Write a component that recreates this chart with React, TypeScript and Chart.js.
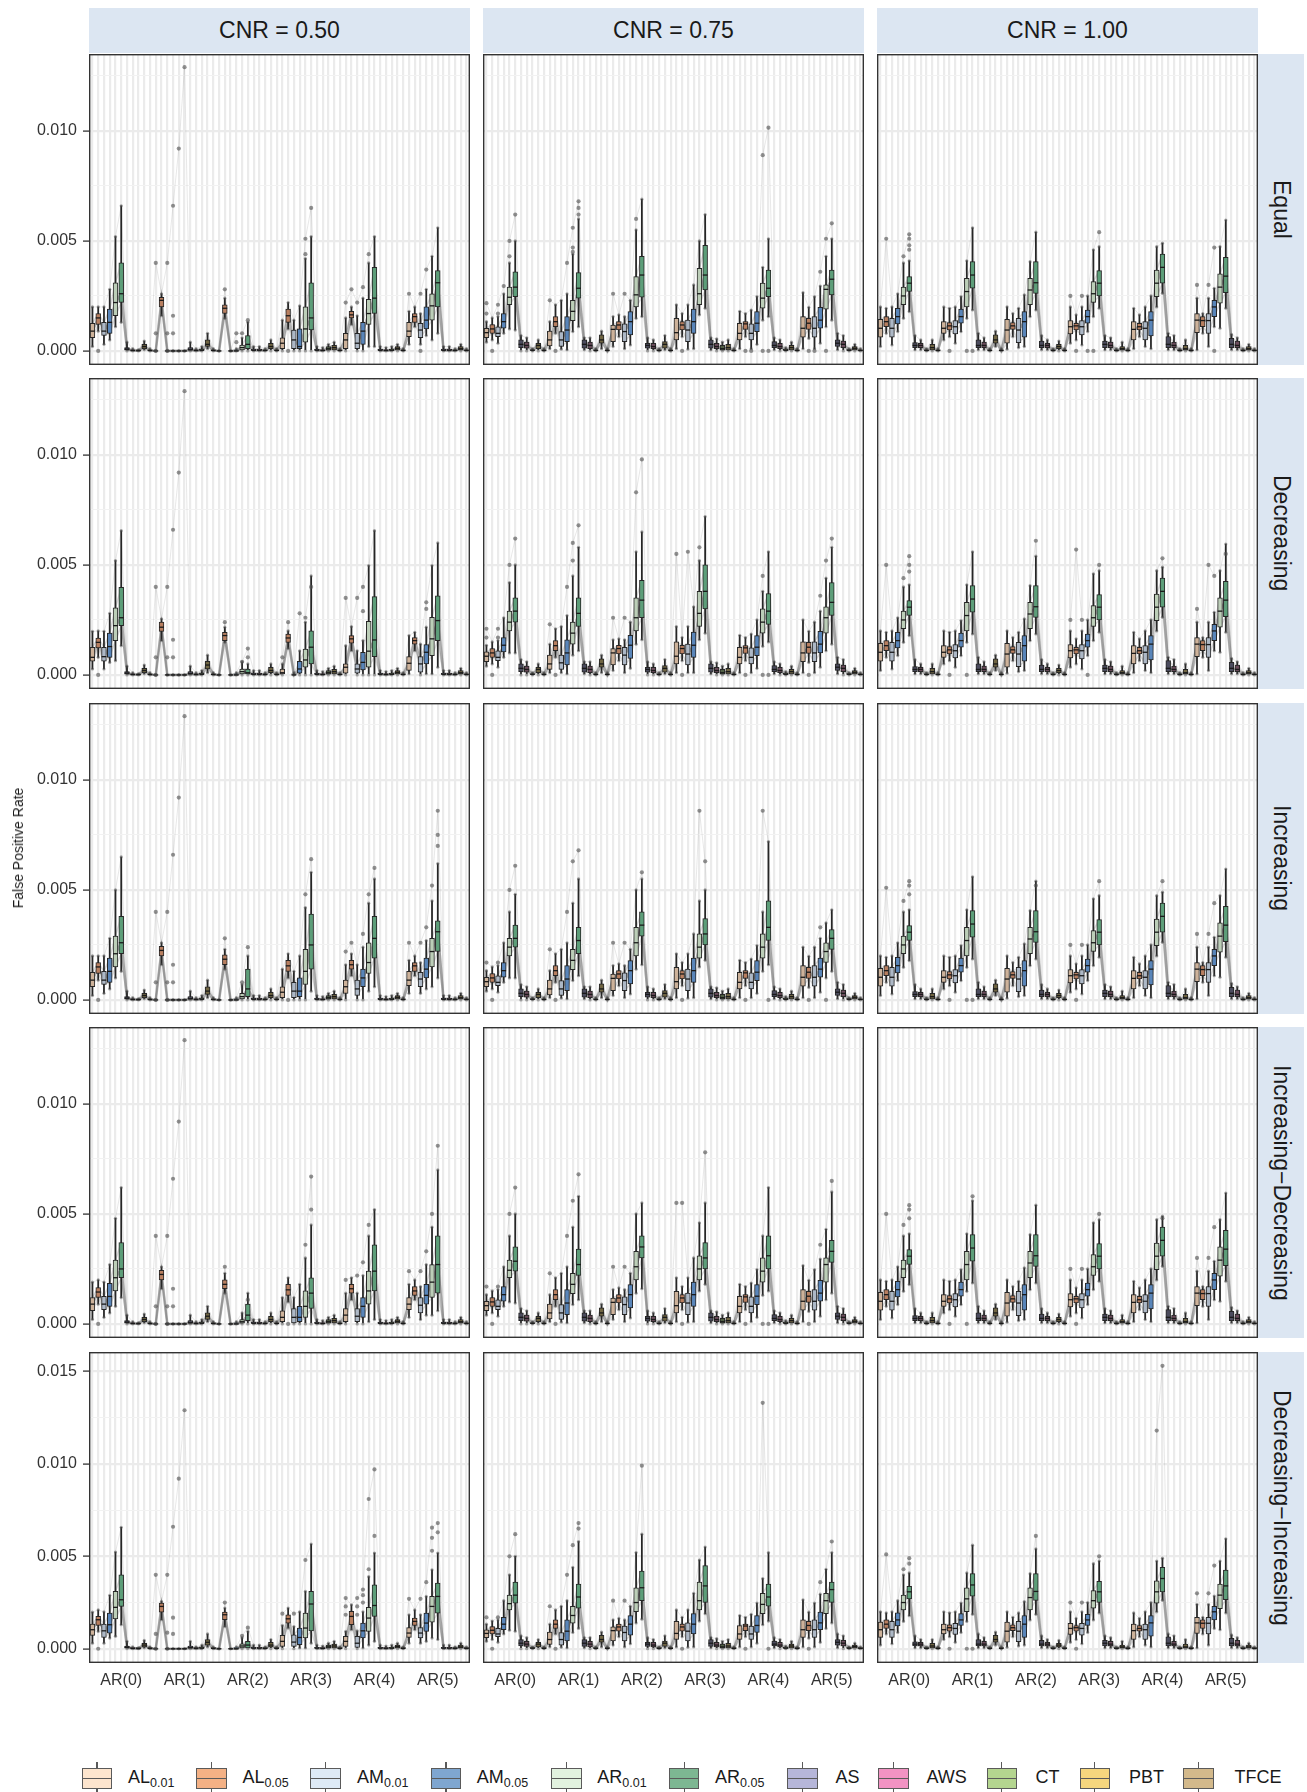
import React, { useEffect, useRef } from 'react';
import { Chart, registerables } from 'chart.js';

Chart.register(...registerables);

type Box = [number, number, number, number, number]; // lower whisker, Q1, median, Q3, upper whisker (x 1e-4)
type Outlier = [number, number]; // position 1..66, value (x 1e-4)

const FONT = '"Liberation Sans", Arial, Helvetica, sans-serif';
const UNIT = 1e-4;

const GROUPS = ['AR(0)', 'AR(1)', 'AR(2)', 'AR(3)', 'AR(4)', 'AR(5)'];
const METHOD_BASE = ['AL', 'AL', 'AM', 'AM', 'AR', 'AR', 'AS', 'AWS', 'CT', 'PBT', 'TFCE'];
const METHOD_SUB = ['0.01', '0.05', '0.01', '0.05', '0.01', '0.05', '', '', '', '', ''];
const CNR_LABELS = ['CNR = 0.50', 'CNR = 0.75', 'CNR = 1.00'];
const PATTERN_LABELS = ['Equal', 'Decreasing', 'Increasing', 'Increasing\u2212Decreasing', 'Decreasing\u2212Increasing'];
const Y_TITLE = 'False Positive Rate';

const LEGEND_FILL = ['#FDE5CE', '#F4B185', '#DEEAF6', '#7FA6D0', '#E2F2DF', '#7DB792', '#B6B6D9', '#F293C3', '#B4D58F', '#F6D67E', '#D3B98B'];
const BOX_FILL = ['#CDB29A', '#B87F60', '#ADB8C6', '#5985B9', '#BCCEB8', '#5D9E79', '#4C4C5E', '#6C4C5C', '#505F44', '#706542', '#605646'];

// ---------- data (values in units of 1e-4) ----------
const EQUAL_050: Box[] = [
  [2,6,9,12.5,20],[9,12,15,17,20],[3,7,9,13,20],[5,8,13,19,28],[11,16,22,31,52],[13,22,26,40,66],[0,0.3,0.8,1.5,4],[0,0,0.2,0.5,1],[0,0,0.1,0.3,0.6],[0.5,1,2,3,4.5],[0,0,0.2,0.5,1],
  [0,0,0,0,0],[16,20,23,24.4,26],[0,0,0,0,0],[0,0,0,0,0],[0,0,0,0,0],[0,0,0,0,0],[0,0,0.5,1.5,4],[0,0,0.2,0.5,1],[0,0,0.3,1,2],[1,2,3,5,8],[0,0,0.2,0.5,1],
  [0,0,0,0,0],[14.8,17,19.4,21,24],[0,0,0,0,0],[0,0,0,0.3,1],[0,0.5,1.5,2.7,6],[0,1,3,7,13],[0,0,0.3,0.8,2],[0,0,0.3,0.8,2],[0,0,0.2,0.5,1],[0,1,2,3.5,5],[0,0,0.2,0.5,1],
  [0,1,3.5,6,14],[10,13,16,19,22],[0,1,5,9.5,14],[0,1,2,10,20.5],[0,4,10,20,42],[0,9.5,15,31,52],[0,0,0.3,0.8,2],[0,0,0.2,0.5,1.5],[0,0.3,1,2,3],[0,0.5,1.5,2.5,4],[0,0,0.2,0.5,1],
  [0,1,5,8,15],[12,15,16.4,18,20],[0,1,3.5,8,16],[0,3,9,13,24],[2,12,17,23.5,40],[2,17,24,38,52],[0,0,0.3,0.8,2],[0,0,0.2,0.5,1.5],[0,0,0.3,0.8,2],[0,0.5,1.2,2,3],[0,0,0.2,0.5,1],
  [3,6.5,9,13,18],[11,13,15.6,17,20],[3,6,9.5,12.6,17],[7,10,14,20,28],[5,14,20.5,26,43],[8,20,31,36.5,56],[0,0,0.3,0.8,2],[0,0,0.3,0.8,2],[0,0,0.2,0.5,1],[0,0.5,1,2,3],[0,0,0.2,0.5,1],
];
const EQUAL_050_OUT: Outlier[] = [
  [2,0],[12,0],[12,8],[12,40],[14,0],[14,8],[14,40],[15,8],[15,16],[15,66],[16,92],[17,129],[24,28],[26,4],[26,8],[27,8],[28,14],
  [35,0],[38,44],[38,51],[39,65],[45,22],[46,28],[47,22],[48,29],[49,44],[56,26],[58,0],[58,26],[59,37],
];

const DECREASING_050: Box[] = [
  [2.7,6.2,8,12.6,19.8],[8,12.3,14.8,16.8,20],[2.7,6.2,8.3,12.6,19.8],[5.7,8,12.9,19,28],[6.5,15.6,22.4,30.5,52],[13.3,22.4,26,39.8,65.6],[0,0.3,0.8,1.5,4],[0,0,0.2,0.5,1],[0,0,0.1,0.3,0.6],[0.5,1,2,3,4.5],[0,0,0.2,0.5,1],
  [0,0,0,0,0],[15.6,19.8,21.7,24,25.5],[0,0,0,0,0],[0,0,0,0,0],[0,0,0,0,0],[0,0,0,0,0],[0,0,0.5,1.5,4],[0,0,0.2,0.5,1],[0,0,0.3,1,2],[1,2.7,4.5,6.2,9],[0,0,0.2,0.5,1],
  [0,0,0,0,0],[14.8,15.6,17.9,19.4,21.7],[0,0,0,0,0],[0,0,0,0.3,1],[0,0.5,1.5,2.7,6],[0,0.5,1,2.7,5],[0,0,0.3,0.8,2],[0,0,0.3,0.8,2],[0,0,0.2,0.5,1],[0,1,2,3.5,5],[0,0,0.2,0.5,1],
  [0,0.5,1,2.7,5],[12,14.8,16.8,18.6,20],[0,0,0,0.3,1],[0,0.8,2.7,6.2,11],[0,3.5,6.8,11.8,24],[0,5,12.6,20,45],[0,0,0.3,0.8,2],[0,0,0.2,0.5,1.5],[0,0.3,1,2,3],[0,0.5,1.5,2.5,4],[0,0,0.2,0.5,1],
  [0,0.8,3.5,5,13.3],[11,14.4,16.4,17.9,22],[0,0.8,2.7,5,11],[0,2.3,5.7,10.3,15.6],[0,3.5,10.8,24.4,49.7],[0,8.3,15.9,35.6,65.6],[0,0,0.3,0.8,2],[0,0,0.2,0.5,1.5],[0,0,0.3,0.8,2],[0,0.5,1.2,2,3],[0,0,0.2,0.5,1],
  [0.5,2,5.3,8.3,17.9],[11,14,15.6,17,19.4],[0,1.2,5,8.3,14],[0.5,5,10.3,13.8,21.7],[0.5,8.8,16.4,26.2,49.7],[3.5,15.6,24.7,36,60],[0,0,0.3,0.8,2],[0,0,0.3,0.8,2],[0,0,0.2,0.5,1],[0,0.5,1,2,3],[0,0,0.2,0.5,1],
];
const DECREASING_050_OUT: Outlier[] = [
  [2,0],[12,0],[12,8],[12,40],[14,8],[14,40],[15,8],[15,16],[15,66],[16,92],[17,129],[24,24],[27,6],[28,8],[28,12],[34,8],[35,24],[37,28],[38,26],[39,40],
  [45,35],[47,35],[48,29],[48,40],[59,30],[59,33],
];

const INCREASING_050: Box[] = [
  [2,6,9,12.5,20],[9,12,15,17,20],[3,7,9,13,20],[5,8,13,19,28],[10,15,21,29,50],[13,21,26,38,65],[0,0.3,0.8,1.5,4],[0,0,0.2,0.5,1],[0,0,0.1,0.3,0.6],[0.5,1,2,3,4.5],[0,0,0.2,0.5,1],
  [0,0,0,0,0],[16,20,22.5,24.4,26],[0,0,0,0,0],[0,0,0,0,0],[0,0,0,0,0],[0,0,0,0,0],[0,0,0.5,1.5,4],[0,0,0.2,0.5,1],[0,0,0.3,1,2],[1,2.5,4,6,9],[0,0,0.2,0.5,1],
  [0,0,0,0,0],[14,16,18.5,20.5,23],[0,0,0,0,0],[0,0,0,0.3,1],[0,0.5,1.5,3,7],[0,1.5,5,14,20],[0,0,0.3,0.8,2],[0,0,0.3,0.8,2],[0,0,0.2,0.5,1],[0,1,2,3.5,5],[0,0,0.2,0.5,1],
  [0,1,3.5,6,14],[10,13,15.5,18,21],[0,1,4,8,13],[0,1.5,4,10,20],[0,7,13,23,42],[4,14,25,39,58],[0,0,0.3,0.8,2],[0,0,0.2,0.5,1.5],[0,0.3,1,2,3],[0,0.5,1.5,2.5,4],[0,0,0.2,0.5,1],
  [0,3,6,9,16],[11,14,16,18,21],[0,2,5,9,16],[0,6,10,14,24],[4,12,17,26,44],[6,19,28,38,55],[0,0,0.3,0.8,2],[0,0,0.2,0.5,1.5],[0,0,0.3,0.8,2],[0,0.5,1.2,2,3],[0,0,0.2,0.5,1],
  [3,6.5,9,13,18],[11,13,15.5,17,20],[3,6,9.5,12.6,17],[5,10,14,19,27],[6,15,22,28,45],[10,22,31,36,62],[0,0,0.3,0.8,2],[0,0,0.3,0.8,2],[0,0,0.2,0.5,1],[0,0.5,1,2,3],[0,0,0.2,0.5,1],
];
const INCREASING_050_OUT: Outlier[] = [
  [2,0],[12,0],[12,8],[12,40],[14,0],[14,8],[14,40],[15,8],[15,16],[15,66],[16,92],[17,129],[24,28],[27,8],[28,24],[35,0],[38,48],[39,64],
  [45,22],[46,26],[48,30],[49,48],[50,60],[56,26],[58,26],[59,33],[60,52],[61,70],[61,75],[61,86],
];

const INCDEC_050: Box[] = [
  [2,6,9,12,19],[9,12,14.5,16.5,20],[3,6.5,9,12.5,19],[5,8,12.5,18.5,27],[8,15,21,29,48],[12,21,25,37,62],[0,0.3,0.8,1.5,4],[0,0,0.2,0.5,1],[0,0,0.1,0.3,0.6],[0.5,1,2,3,4.5],[0,0,0.2,0.5,1],
  [0,0,0,0,0],[16,20,22.5,24.4,26],[0,0,0,0,0],[0,0,0,0,0],[0,0,0,0,0],[0,0,0,0,0],[0,0,0.5,1.5,4],[0,0,0.2,0.5,1],[0,0,0.3,1,2],[1,2,3.5,5,8],[0,0,0.2,0.5,1],
  [0,0,0,0,0],[14,16,18,20,23],[0,0,0,0,0],[0,0,0,0.3,1],[0,0.3,1,2,5],[0,1.5,4,9,14],[0,0,0.3,0.8,2],[0,0,0.3,0.8,2],[0,0,0.2,0.5,1],[0,1,2,3.5,5],[0,0,0.2,0.5,1],
  [0,1,3,6,12],[10,13,15.5,18,21],[0,0.5,3,7,12],[0,1,3,8,18],[0,3,8,15,30],[0,7,14,21,45],[0,0,0.3,0.8,2],[0,0,0.2,0.5,1.5],[0,0.3,1,2,3],[0,0.5,1.5,2.5,4],[0,0,0.2,0.5,1],
  [0,1,4,7,14],[11,14,16,18,21],[0,1,3.5,7,14],[0,3,8,12,22],[1,9,15,24,40],[2,15,24,36,52],[0,0,0.3,0.8,2],[0,0,0.2,0.5,1.5],[0,0,0.3,0.8,2],[0,0.5,1.2,2,3],[0,0,0.2,0.5,1],
  [3,6.5,9,12,18],[11,13,15,17,20],[2,5,8.5,12,17],[4,9,13,18,27],[4,12,19,27,44],[6,14,27,40,70],[0,0,0.3,0.8,2],[0,0,0.3,0.8,2],[0,0,0.2,0.5,1],[0,0.5,1,2,3],[0,0,0.2,0.5,1],
];
const INCDEC_050_OUT: Outlier[] = [
  [2,0],[12,0],[12,8],[12,40],[14,0],[14,8],[14,40],[15,8],[15,16],[15,66],[16,92],[17,129],[24,26],[28,11],[35,0],[38,36],[39,52],[39,67],
  [45,20],[47,22],[48,28],[49,45],[56,24],[58,24],[59,33],[60,50],[61,81],
];

const DECINC_050: Box[] = [
  [3,7.2,10.3,13.3,19.8],[9.4,12.6,15.7,17.5,21],[3,6.1,9.7,13.3,20],[5.8,8.5,13,19.3,28.9],[6.7,16.2,22.4,31,52.3],[13,22.9,26.5,40,65.7],[0,0.3,0.8,1.5,4],[0,0,0.2,0.5,1],[0,0,0.1,0.3,0.6],[0.5,1,2,3,4.5],[0,0,0.2,0.5,1],
  [0,0,0,0,0],[15.7,19.8,22.9,24.7,25.6],[0,0,0,0,0],[0,0,0,0,0],[0,0,0,0,0],[0,0,0,0,0],[0,0,0.5,1.5,4],[0,0,0.2,0.5,1],[0,0,0.3,1,2],[1,2,3.5,5,8],[0,0,0.2,0.5,1],
  [0,0,0,0,0],[12,15.7,18.4,19.8,22],[0,0,0,0,0],[0,0,0,0.3,1],[0,0.5,1.5,2.7,6],[0,0.4,2,4,9.4],[0,0,0.3,0.8,2],[0,0,0.3,0.8,2],[0,0,0.2,0.5,1],[0,1,2,3.5,5],[0,0,0.2,0.5,1],
  [0,1.3,4,7.2,12.6],[11.2,13.9,16.2,18.4,22],[0,1.3,3.6,7.6,12],[0.4,2.2,6.1,11.2,20],[0.4,5.8,11.2,19.3,31],[3,9.7,24.2,31,56.6],[0,0,0.3,0.8,2],[0,0,0.2,0.5,1.5],[0,0.3,1,2,3],[0,0.5,1.5,2.5,4],[0,0,0.2,0.5,1],
  [0,1.3,4,6.7,9.4],[10.3,13,17.5,20.2,23.8],[0,0.7,3,6.7,9.7],[0.4,5.8,9.7,13.9,20],[2,9.4,16.6,22.4,39],[4,17.5,23.4,34.6,51.8],[0,0,0.3,0.8,2],[0,0,0.2,0.5,1.5],[0,0,0.3,0.8,2],[0,0.5,1.2,2,3],[0,0,0.2,0.5,1],
  [3,6.1,8.5,11.5,18.4],[10.3,12.6,14.8,16.6,21],[3,5.8,8.5,11.5,18.4],[4,9.4,13.9,19.3,28.3],[5.8,14.4,22.9,28.3,42.7],[5,19.3,28.3,35.5,51.8],[0,0,0.3,0.8,2],[0,0,0.3,0.8,2],[0,0,0.2,0.5,1],[0,0.5,1,2,3],[0,0,0.2,0.5,1],
];
const DECINC_050_OUT: Outlier[] = [
  [2,0],[12,0],[12,8],[12,40],[14,0],[14,8.7],[14,40],[15,8],[15,16.8],[15,66],[16,92],[17,129],[24,25],[27,7],[28,11.4],[34,19],[36,19],[38,48],
  [45,18.4],[45,22.9],[45,27.4],[47,18.4],[47,22.9],[47,27.4],[48,25],[48,29],[48,32],[49,43],[49,81],[50,61],[50,97],
  [56,27],[58,27],[59,36],[60,53],[60,60],[60,65.5],[61,63],[61,68],
];

const EQUAL_075: Box[] = [
  [4,6,8.3,10.3,13.3],[5,8,10,12,15],[3.5,6.5,8,11,15.6],[8,10.3,13.3,17,26],[10,21,24.4,29,40],[9.5,24.7,29,36,50],[0,1.5,3,5,7],[0,1.2,2.5,4,6],[0,0,0.3,0.5,1],[0,1,2.5,3.5,5],[0,0,0.2,0.5,1],
  [1,2.3,5,9,13.3],[8,11,13.3,15.6,21],[0.8,2,5,8.8,23],[0.5,4.2,9.5,15.6,26],[8.8,13.8,18,23,44],[11,24,28.5,35.6,60],[0.5,1.2,3,5,6],[0,1,2.5,4,6],[0,0,0.2,0.5,1],[1,3.5,5,7.3,9],[0,0,0.2,0.5,1],
  [2,4.2,9.8,11.8,15.6],[6.5,9.5,11.8,13.3,16.4],[1,4.2,8.8,12.3,15.6],[2.7,7.3,13.3,17.9,23],[14.8,20,25.5,33.8,55],[15.6,24.4,34.5,43,69],[0,1.2,2.5,3.5,6],[0,1,2,3.5,5],[0,0,0.2,0.5,1],[0.5,1.2,3,4.2,7],[0,0,0.2,0.5,1],
  [1,5,8.3,14.8,21],[6.5,9.5,11.8,13.3,17],[0.8,4.2,9.5,14,21],[1,8,13.3,19,30],[16.4,21,26,37.6,50],[19.4,27.7,34.5,48,62],[0.5,1.2,3,5,6],[0,1,2,3.5,5.5],[0,0.3,1,2.5,4],[0,0.5,1.5,3,5],[0,0,0.2,0.5,1],
  [1,5,8,12.6,18],[6.5,9.8,12.3,13.3,17],[1,5,8,12.3,18.6],[3,8.8,12.6,17.9,24.7],[14,19.4,24,30.8,38],[15.6,24.7,28.5,36.8,51],[0.5,1.5,2.5,4.2,6],[0,1,2,3.5,5],[0,0,0.3,0.8,1.5],[0,0.5,1.5,2.5,4],[0,0,0.2,0.5,1],
  [1,6.2,10.3,15.6,26.5],[5.7,9.8,12.6,14.8,19.8],[1,6.2,10.3,15.6,24.7],[3.5,10.3,14,19.8,29.5],[11,19,28,30,43],[14,25.5,32.6,36.8,51],[0.5,2,3.5,5,8],[0,1.5,3,4.5,7],[0,0,0.3,0.6,1],[0,0.5,1.2,2,3],[0,0,0.2,0.5,1],
];
const EQUAL_075_OUT: Outlier[] = [
  [1,17],[1,21.7],[2,0],[3,17],[3,21],[4,29.5],[5,43],[5,50],[6,62],[12,23],[13,0],[15,40],[16,45],[16,47],[16,56],[17,62],[17,65],[17,68],
  [23,26],[25,26],[27,60],[35,0],[46,0],[47,0],[49,0],[49,89],[50,0],[50,101.5],[57,0],[58,0],[59,36],[60,0],[60,51],[61,58],
];

const DECREASING_075: Box[] = [
  [4,6,8.5,10.5,13.5],[5,8,10,12,15],[3.5,6.5,8,11,15.6],[8,10.5,13.5,17,26],[10,20,24,29,42],[10,24,29,35,50],[0,1.5,3,5,7],[0,1.2,2.5,4,6],[0,0,0.3,0.5,1],[0,1,2.5,3.5,5],[0,0,0.2,0.5,1],
  [1,2.5,5,9,14],[8,11,13.3,15.6,21],[1,2.5,5.5,9,22],[0.5,4.5,10,16,27],[9,14,19,24,45],[11,22,28,35,58],[0.5,1.2,3,5,6],[0,1,2.5,4,6],[0,0,0.2,0.5,1],[1,3.5,5,7.3,9],[0,0,0.2,0.5,1],
  [2,4.5,10,12,16],[6.5,9.5,12,13.5,16.4],[1,4.5,9,12.5,16],[3,7.5,13.5,18,24],[14,20,26,35,56],[16,26,34,43,65],[0,1.2,2.5,3.5,6],[0,1,2,3.5,5],[0,0,0.2,0.5,1],[0.5,1.2,3,4.2,7],[0,0,0.2,0.5,1],
  [1,5,8.5,15,22],[6.5,9.5,12,13.5,17],[1,4.5,9.5,14,22],[1,8,13.5,19.5,31],[16,22,28,38,52],[19,30,38,50,72],[0.5,1.2,3,5,6],[0,1,2,3.5,5.5],[0,0.3,1,2.5,4],[0,0.5,1.5,3,5],[0,0,0.2,0.5,1],
  [1,5,8,12.6,18],[6.5,9.8,12.3,13.3,17],[1,5,8,12.3,18.6],[3,8.8,12.6,17.9,25],[13,19,24,30,38],[15,23,29,37,56],[0.5,1.5,2.5,4.2,6],[0,1,2,3.5,5],[0,0,0.3,0.8,1.5],[0,0.5,1.5,2.5,4],[0,0,0.2,0.5,1],
  [1,6,10,15,25],[5.7,9.8,12.6,14.8,19.8],[1,6,10,15,24],[3.5,10,14,19.8,29],[11,19,26,31,44],[14,27,33,42,58],[0.5,2,3.5,5,8],[0,1.5,3,4.5,7],[0,0,0.3,0.6,1],[0,0.5,1.2,2,3],[0,0,0.2,0.5,1],
];
const DECREASING_075_OUT: Outlier[] = [
  [1,17],[1,21],[2,0],[3,17],[3,21],[5,50],[6,62],[12,23],[13,0],[15,40],[16,52],[16,60],[17,68],[23,26],[25,26],[27,83],[28,98],
  [34,55],[35,0],[36,56],[38,58],[46,0],[49,0],[49,45],[50,0],[57,0],[59,36],[60,52],[61,62],
];

const INCREASING_075: Box[] = [
  [4,6,8.3,10.3,13.3],[5,8,10,12,15],[3.5,6.5,8,11,15.6],[8,10.3,13.3,17,26],[10,20,24,28,40],[10,24,28,34,48],[0,1.5,3,5,7],[0,1.2,2.5,4,6],[0,0,0.3,0.5,1],[0,1,2.5,3.5,5],[0,0,0.2,0.5,1],
  [1,2.3,5,9,13.3],[8,11,13.3,15.6,21],[0.8,2,5,8.8,23],[0.5,4.2,9.5,15.6,26],[8.8,13.8,18,23,44],[11,21,27,33,55],[0.5,1.2,3,5,6],[0,1,2.5,4,6],[0,0,0.2,0.5,1],[1,3.5,5,7.3,9],[0,0,0.2,0.5,1],
  [2,4.2,9.8,11.8,15.6],[6.5,9.5,11.8,13.3,16.4],[1,4.2,8.8,12.3,15.6],[2.7,7.3,13.3,17.9,23],[14,20,26,33,50],[16,29,34,40,55],[0,1.2,2.5,3.5,6],[0,1,2,3.5,5],[0,0,0.2,0.5,1],[0.5,1.2,3,4.2,7],[0,0,0.2,0.5,1],
  [1,5,8.3,14.8,21],[6.5,9.5,11.8,13.3,17],[0.8,4.2,9.5,14,21],[1,8,13.3,19,30],[15,19,24,30,45],[18,25,30,37,50],[0.5,1.2,3,5,6],[0,1,2,3.5,5.5],[0,0.3,1,2.5,4],[0,0.5,1.5,3,5],[0,0,0.2,0.5,1],
  [1,5,8,12.6,18],[6.5,9.8,12.3,13.3,17],[1,5,8,12.3,18.6],[3,8.8,12.6,17.9,24.7],[13,19,24,30,40],[16,27,33,45,72],[0.5,1.5,2.5,4.2,6],[0,1,2,3.5,5],[0,0,0.3,0.8,1.5],[0,0.5,1.5,2.5,4],[0,0,0.2,0.5,1],
  [1,6.2,10.3,15.6,24],[5.7,9.8,12.6,14.8,19.8],[1,6.2,10.3,15.6,24],[3.5,10.3,14,19,28],[10,17,22,26,35],[13,23,28,32,41],[0.5,2,3.5,5,8],[0,1.5,3,4.5,7],[0,0,0.3,0.6,1],[0,0.5,1.2,2,3],[0,0,0.2,0.5,1],
];
const INCREASING_075_OUT: Outlier[] = [
  [1,17],[2,0],[3,17],[5,50],[6,61],[12,23],[13,0],[15,40],[16,63],[17,68],[23,26],[25,26],[28,58],[35,0],[38,86],[39,63],
  [46,0],[49,86],[50,0],[57,0],[59,33],[60,0],
];

const INCDEC_075: Box[] = [
  [4,6,8.3,10.3,13.3],[5,8,10,12,15],[3.5,6.5,8,11,15.6],[8,10.3,13.3,17,26],[10,21,24.4,29,40],[9.5,24,28.5,35,50],[0,1.5,3,5,7],[0,1.2,2.5,4,6],[0,0,0.3,0.5,1],[0,1,2.5,3.5,5],[0,0,0.2,0.5,1],
  [1,2.3,5,9,13.3],[8,11,13.3,15.6,21],[0.8,2,5,8.8,23],[0.5,4.2,9.5,15.6,26],[8.8,13.8,18,23,44],[11,22,27,34,58],[0.5,1.2,3,5,6],[0,1,2.5,4,6],[0,0,0.2,0.5,1],[1,3.5,5,7.3,9],[0,0,0.2,0.5,1],
  [2,4.2,9.8,11.8,15.6],[6.5,9.5,11.8,13.3,16.4],[1,4.2,8.8,12.3,15.6],[2.7,7.3,13.3,17.9,23],[14,20,26,33,50],[16,30,35,40,55],[0,1.2,2.5,3.5,6],[0,1,2,3.5,5],[0,0,0.2,0.5,1],[0.5,1.2,3,4.2,7],[0,0,0.2,0.5,1],
  [1,5,8.3,14.8,21],[6.5,9.5,11.8,13.3,17],[0.8,4.2,9.5,14,21],[1,8,13.3,19,30],[15,20,25,31,46],[18,25,30,37,55],[0.5,1.2,3,5,6],[0,1,2,3.5,5.5],[0,0.3,1,2.5,4],[0,0.5,1.5,3,5],[0,0,0.2,0.5,1],
  [1,5,8,12.6,18],[6.5,9.8,12.3,13.3,17],[1,5,8,12.3,18.6],[3,8.8,12.6,17.9,24.7],[13,19,24,30,40],[15,25,31,40,62],[0.5,1.5,2.5,4.2,6],[0,1,2,3.5,5],[0,0,0.3,0.8,1.5],[0,0.5,1.5,2.5,4],[0,0,0.2,0.5,1],
  [1,6.2,10.3,15.6,26.5],[5.7,9.8,12.6,14.8,19.8],[1,6.2,10.3,15.6,24.7],[3.5,10.3,14,19.8,29.5],[11,19,27,30,43],[14,28,33,38,60],[0.5,2,3.5,5,8],[0,1.5,3,4.5,7],[0,0,0.3,0.6,1],[0,0.5,1.2,2,3],[0,0,0.2,0.5,1],
];
const INCDEC_075_OUT: Outlier[] = [
  [1,17],[2,0],[3,17],[5,50],[6,62],[12,23],[13,0],[15,40],[16,56],[17,68],[23,26],[25,26],[34,55],[35,55],[35,0],[39,78],
  [46,0],[49,0],[50,0],[57,0],[59,36],[61,65],
];

const DECINC_075: Box[] = [
  [4,6,8.3,10.3,13.3],[5,8,10,12,15],[3.5,6.5,8,11,15.6],[8,10.3,13.3,17,26],[10,21,24.4,29,40],[9.5,24.7,29,36,50],[0,1.5,3,5,7],[0,1.2,2.5,4,6],[0,0,0.3,0.5,1],[0,1,2.5,3.5,5],[0,0,0.2,0.5,1],
  [1,2.3,5,9,13.3],[8,11,13.3,15.6,21],[0.8,2,5,8.8,23],[0.5,4.2,9.5,15.6,26],[8.8,13.8,18,23,44],[11,22,28,35,58],[0.5,1.2,3,5,6],[0,1,2.5,4,6],[0,0,0.2,0.5,1],[1,3.5,5,7.3,9],[0,0,0.2,0.5,1],
  [2,4.2,9.8,11.8,15.6],[6.5,9.5,11.8,13.3,16.4],[1,4.2,8.8,12.3,15.6],[2.7,7.3,13.3,17.9,23],[14,20,25,33,52],[16,26,33,42,62],[0,1.2,2.5,3.5,6],[0,1,2,3.5,5],[0,0,0.2,0.5,1],[0.5,1.2,3,4.2,7],[0,0,0.2,0.5,1],
  [1,5,8.3,14.8,21],[6.5,9.5,11.8,13.3,17],[0.8,4.2,9.5,14,21],[1,8,13.3,19,30],[15,21,26,36,48],[19,25,34,45,55],[0.5,1.2,3,5,6],[0,1,2,3.5,5.5],[0,0.3,1,2.5,4],[0,0.5,1.5,3,5],[0,0,0.2,0.5,1],
  [1,5,8,12.6,18],[6.5,9.8,12.3,13.3,17],[1,5,8,12.3,18.6],[3,8.8,12.6,17.9,24.7],[13,19,24,30,38],[15,23,28,35,52],[0.5,1.5,2.5,4.2,6],[0,1,2,3.5,5],[0,0,0.3,0.8,1.5],[0,0.5,1.5,2.5,4],[0,0,0.2,0.5,1],
  [1,6.2,10.3,15.6,26.5],[5.7,9.8,12.6,14.8,19.8],[1,6.2,10.3,15.6,24.7],[3.5,10.3,14,19.8,29.5],[11,19,26,30,43],[14,25,32,36,52],[0.5,2,3.5,5,8],[0,1.5,3,4.5,7],[0,0,0.3,0.6,1],[0,0.5,1.2,2,3],[0,0,0.2,0.5,1],
];
const DECINC_075_OUT: Outlier[] = [
  [1,17],[2,0],[3,17],[5,50],[6,62],[12,23],[13,0],[15,40],[16,56],[17,65],[17,68],[23,26],[25,26],[28,99],[35,0],
  [46,0],[49,133],[50,0],[57,0],[59,36],[61,58],
];

const EQUAL_100: Box[] = [
  [2,6.2,10.3,14.4,20],[8,11,13.3,15.6,19.4],[2.7,6.2,10.3,14.8,20],[8.8,12.3,15.6,19.4,26],[14.8,21,25,29,40],[17.9,27,30.8,33.8,41],[0.5,1.5,2.5,3.8,7],[0.5,1.5,2.5,3.5,5],[0,0,0.2,0.5,1],[0,0.5,1.5,3,5],[0,0,0.2,0.5,1],
  [5,8,10.3,13.3,20],[6.5,9.5,11.4,12.9,19.4],[3.5,7.7,11,13.8,20],[8.8,12.6,15.6,19,24.7],[14.8,20,27,33,41],[18.6,28.5,34.5,40.6,56],[0.5,1.5,2.5,5,8],[0.5,1.5,2.5,4,6],[0,0,0.2,0.5,1],[2,3.5,5,7.3,9],[0,0,0.2,0.5,1],
  [0.8,3.5,9.5,14.4,20],[6.5,9.8,11.4,12.9,17],[1.5,3.8,9.5,14.8,19.4],[2,6.2,13.3,17.9,25.5],[15.6,21,27.7,33,40.6],[18.6,26.2,31,40.6,54],[0.5,1.5,2.5,4.5,7],[0.5,1.5,2.5,3.5,5],[0,0,0.2,0.5,1],[0,1,2,3,4.5],[0,0,0.2,0.5,1],
  [3.5,7.7,11,13.8,20],[5,9.5,11.4,12.6,16.4],[2.7,7.3,11,13.8,20],[8.8,12.6,15.6,18.6,25],[15.6,22,26,31.5,46],[19.4,25,30.8,36.5,47.4],[0.5,1.5,3,4.5,7],[0.5,1.5,2.5,4,6],[0,0,0.2,0.5,1],[0,0.5,1,2,4],[0,0,0.2,0.5,1],
  [1,5,9.8,13.3,19.4],[6.5,9.5,11,12.6,16.4],[2,5,10.3,13.3,20],[1,6.8,14,17.9,25],[20,24.7,30.8,36.8,47.4],[26.2,30.8,38,44,49],[0.5,1.5,3,6.5,8],[0.5,1.5,2.5,4,7],[0,0,0.2,0.5,1],[0,0.5,1,2.5,5],[0,0,0.2,0.5,1],
  [0.5,8.3,14,17,24],[8,11,13.8,15.6,17],[2,8,13.8,17,24],[11,15.6,20,23,28.5],[10.3,21.7,29,35,47.4],[19.4,26.5,34,42.6,59.5],[0.5,1.5,3,5.7,7.5],[0.5,1.5,2.5,4.5,6],[0,0,0.2,0.5,1],[0,0.5,1,2,3],[0,0,0.2,0.5,1],
];
const EQUAL_100_OUT: Outlier[] = [
  [2,51],[5,43],[6,46],[6,48],[6,51],[6,53],[13,0],[16,0],[17,0],[34,25],[35,0],[36,25],[37,0],[38,0],[39,54],[56,30],[58,30],[59,47],[59,0],
];
const DECREASING_100_OUT: Outlier[] = [
  [2,50],[5,44],[6,47],[6,50],[6,54],[13,0],[16,0],[28,61],[34,25],[35,57],[36,25],[37,0],[39,50],[50,53],[56,30],[58,50],[59,45],[61,55],
];
const INCREASING_100_OUT: Outlier[] = [
  [2,51],[5,45],[6,48],[6,52],[6,54],[13,0],[16,0],[17,0],[28,52],[34,25],[35,0],[36,25],[39,54],[50,54],[56,30],[58,30],[59,44],
];
const INCDEC_100_OUT: Outlier[] = [
  [2,50],[5,45],[6,48],[6,52],[6,54],[13,0],[16,0],[17,58],[34,25],[35,0],[36,25],[39,50],[50,48],[56,30],[58,30],[59,44],
];
const DECINC_100_OUT: Outlier[] = [
  [2,51],[5,43],[6,46],[6,49],[13,0],[16,0],[17,0],[28,61],[34,25],[35,0],[36,25],[39,50],[49,118],[50,153],[56,30],[58,30],[59,45],
];

const PANELS: { boxes: Box[]; out: Outlier[] }[][] = [
  [{ boxes: EQUAL_050, out: EQUAL_050_OUT }, { boxes: EQUAL_075, out: EQUAL_075_OUT }, { boxes: EQUAL_100, out: EQUAL_100_OUT }],
  [{ boxes: DECREASING_050, out: DECREASING_050_OUT }, { boxes: DECREASING_075, out: DECREASING_075_OUT }, { boxes: EQUAL_100, out: DECREASING_100_OUT }],
  [{ boxes: INCREASING_050, out: INCREASING_050_OUT }, { boxes: INCREASING_075, out: INCREASING_075_OUT }, { boxes: EQUAL_100, out: INCREASING_100_OUT }],
  [{ boxes: INCDEC_050, out: INCDEC_050_OUT }, { boxes: INCDEC_075, out: INCDEC_075_OUT }, { boxes: EQUAL_100, out: INCDEC_100_OUT }],
  [{ boxes: DECINC_050, out: DECINC_050_OUT }, { boxes: DECINC_075, out: DECINC_075_OUT }, { boxes: EQUAL_100, out: DECINC_100_OUT }],
];

const Y_RANGE_ROWS: [number, number][] = [
  [-0.00064, 0.0135], [-0.00064, 0.0135], [-0.00064, 0.0135], [-0.00064, 0.0135], [-0.00077, 0.01605],
];

// ---------- layout ----------
const COL_LEFT = [89, 483, 877];
const PANEL_W = 381;
const ROW_TOP = [54, 378, 703, 1027, 1352];
const PANEL_H = 311;
const Y_AXIS_W = 89;
const X_AXIS_H = 40;
const STRIP_BG = '#DCE6F2';
const LEGEND_KEY_LEFT = [81.7, 196.4, 310.3, 430.8, 551.3, 668.9, 787.4, 878.4, 986.5, 1079.5, 1183];
const LEGEND_LABEL_LEFT = [128, 242.4, 357, 476.8, 597.3, 715, 835.6, 926.5, 1035.5, 1129, 1234.5];

const isMajor = (v: number) => Math.abs(v / 0.005 - Math.round(v / 0.005)) < 1e-3;

const panelBorder = {
  id: 'panelBorder',
  afterDatasetsDraw(chart: any) {
    const { ctx, chartArea: a } = chart;
    ctx.save();
    ctx.strokeStyle = '#333333';
    ctx.lineWidth = 1.4;
    ctx.strokeRect(a.left + 0.7, a.top + 0.7, a.right - a.left - 1.4, a.bottom - a.top - 1.4);
    ctx.restore();
  },
};

function Panel({ row, col, boxes, outliers }: { row: number; col: number; boxes: Box[]; outliers: Outlier[] }) {
  const ref = useRef<HTMLCanvasElement | null>(null);
  const isLeft = col === 0;
  const isBottom = row === PATTERN_LABELS.length - 1;
  const width = (isLeft ? Y_AXIS_W : 0) + PANEL_W;
  const height = PANEL_H + (isBottom ? X_AXIS_H : 0);
  const left = isLeft ? COL_LEFT[0] - Y_AXIS_W : COL_LEFT[col];

  useEffect(() => {
    if (!ref.current) return;
    const [yMin, yMax] = Y_RANGE_ROWS[row];
    const pt = (i: number, v: number) => ({ x: i + 1, y: v * UNIT });
    const topVals = boxes.map((b, i) => {
      let m = b[4];
      outliers.forEach(([p, v]) => { if (p === i + 1 && v > m) m = v; });
      return pt(i, m);
    });
    const ends: { x: number; y: number }[] = [];
    boxes.forEach((b, i) => { ends.push(pt(i, b[0])); ends.push(pt(i, b[4])); });

    const chart = new Chart(ref.current, {
      type: 'bar',
      data: {
        datasets: [
          { type: 'line', data: topVals, borderColor: 'rgba(150,150,150,0.22)', borderWidth: 1, pointRadius: 0, tension: 0, order: 10 },
          { type: 'line', data: boxes.map((b, i) => pt(i, b[3])), borderColor: 'rgba(120,120,120,0.28)', borderWidth: 1.6, pointRadius: 0, tension: 0, order: 9 },
          { type: 'line', data: boxes.map((b, i) => pt(i, b[1])), borderColor: 'rgba(120,120,120,0.28)', borderWidth: 1.6, pointRadius: 0, tension: 0, order: 9 },
          { type: 'line', data: boxes.map((b, i) => pt(i, b[2])), borderColor: 'rgba(105,105,105,0.5)', borderWidth: 2.6, pointRadius: 0, tension: 0, order: 8 },
          { type: 'bar', data: boxes.map((b, i) => ({ x: i + 1, y: [b[0] * UNIT, b[4] * UNIT] })), backgroundColor: '#262626', borderWidth: 0, barThickness: 1.1, grouped: false, order: 6 },
          { type: 'bar', data: boxes.map((b, i) => ({ x: i + 1, y: [b[1] * UNIT, b[3] * UNIT] })), backgroundColor: boxes.map((_, i) => BOX_FILL[i % 11]), borderColor: '#262626', borderWidth: 1, borderSkipped: false, barThickness: 4.8, grouped: false, order: 5 },
          { type: 'scatter', data: ends, pointRadius: 1.6, pointBackgroundColor: 'rgba(80,80,80,0.5)', pointBorderWidth: 0, order: 4 },
          { type: 'scatter', data: boxes.map((b, i) => pt(i, b[2])), pointStyle: 'line', pointRadius: 2.4, pointBorderColor: '#1A1A1A', pointBorderWidth: 1.3, order: 3 },
          { type: 'scatter', data: outliers.map(([p, v]) => ({ x: p, y: v * UNIT })), pointRadius: 2.1, pointBackgroundColor: 'rgba(80,80,80,0.62)', pointBorderWidth: 0, order: 1 },
        ],
      },
      options: {
        responsive: false,
        animation: false,
        devicePixelRatio: 1,
        events: [],
        layout: { padding: 0, autoPadding: false },
        plugins: { legend: { display: false }, tooltip: { enabled: false } },
        scales: {
          x: {
            type: 'linear', min: 0.4, max: 66.6, offset: false,
            grid: { color: '#EBEBEB', lineWidth: 2.2, drawTicks: false, offset: false },
            border: { display: false },
            ticks: {
              stepSize: 1, autoSkip: false, maxRotation: 0, minRotation: 0, includeBounds: false,
              display: isBottom, padding: 8, color: '#333333', font: { family: FONT, size: 16 },
              callback: (v: any) => {
                const p = Math.round(Number(v)) - 1;
                return p % 11 === 5 ? GROUPS[Math.floor(p / 11)] : '';
              },
            },
            afterFit: (s: any) => { s.height = isBottom ? X_AXIS_H : 0; s.paddingLeft = 0; s.paddingRight = 0; s.paddingTop = 0; s.paddingBottom = 0; },
          },
          y: {
            type: 'linear', min: yMin, max: yMax,
            grid: {
              color: (c: any) => (isMajor(c.tick.value) ? '#EBEBEB' : '#F2F2F2'),
              lineWidth: (c: any) => (isMajor(c.tick.value) ? 2.2 : 1.1),
              drawTicks: isLeft, tickLength: 6, tickWidth: 1.3,
              tickColor: (c: any) => (isMajor(c.tick.value) ? '#333333' : 'rgba(0,0,0,0)'),
            },
            border: { display: false },
            ticks: {
              stepSize: 0.0025, includeBounds: false, display: isLeft, padding: 6,
              color: '#333333', font: { family: FONT, size: 16 },
              callback: (v: any) => (isMajor(Number(v)) ? Number(v).toFixed(3) : ''),
            },
            afterFit: (s: any) => { s.width = isLeft ? Y_AXIS_W : 0; s.paddingTop = 0; s.paddingBottom = 0; s.paddingLeft = 0; s.paddingRight = 0; },
          },
        },
      },
      plugins: [panelBorder],
    } as any);
    return () => chart.destroy();
  }, []);

  return (
    <canvas ref={ref} width={width} height={height}
      style={{ position: 'absolute', left, top: ROW_TOP[row], width, height, display: 'block' }} />
  );
}

export default function App() {
  return (
    <div style={{ position: 'absolute', left: 0, top: 0, width: 1307, height: 1792, background: '#FFFFFF', overflow: 'hidden', fontFamily: FONT, color: '#1A1A1A' }}>
      {CNR_LABELS.map((t, c) => (
        <div key={t} style={{ position: 'absolute', left: COL_LEFT[c], top: 8, width: PANEL_W, height: 45, background: STRIP_BG, display: 'flex', alignItems: 'center', justifyContent: 'center', fontSize: 23 }}>{t}</div>
      ))}
      {PATTERN_LABELS.map((t, r) => (
        <div key={t} style={{ position: 'absolute', left: 1258, top: ROW_TOP[r], width: 46, height: PANEL_H, background: STRIP_BG, display: 'flex', alignItems: 'center', justifyContent: 'center', fontSize: 23, writingMode: 'vertical-rl', whiteSpace: 'nowrap' }}>{t}</div>
      ))}
      {PANELS.map((rowPanels, r) => rowPanels.map((p, c) => (
        <Panel key={`${r}-${c}`} row={r} col={c} boxes={p.boxes} outliers={p.out} />
      )))}
      <div style={{ position: 'absolute', left: 17.5, top: 848, transform: 'translate(-50%, -50%) rotate(-90deg)', fontSize: 14, whiteSpace: 'nowrap' }}>{Y_TITLE}</div>
      {METHOD_BASE.map((base, i) => (
        <React.Fragment key={i}>
          <div style={{ position: 'absolute', left: LEGEND_KEY_LEFT[i], top: 1762, width: 30.5, height: 40 }}>
            <div style={{ position: 'absolute', left: 14.7, top: 0, width: 1.2, height: 40, background: '#5A5A5A' }} />
            <div style={{ position: 'absolute', left: 0, top: 6, width: 30.5, height: 21, boxSizing: 'border-box', border: '1.2px solid #5A5A5A', background: LEGEND_FILL[i] }} />
            <div style={{ position: 'absolute', left: 0, top: 15.8, width: 30.5, height: 1.4, background: '#5A5A5A' }} />
          </div>
          <div style={{ position: 'absolute', left: LEGEND_LABEL_LEFT[i], top: 1768, fontSize: 18, lineHeight: '18px', whiteSpace: 'nowrap' }}>
            {base}{METHOD_SUB[i] ? <span style={{ fontSize: 12.5, verticalAlign: '-4px' }}>{METHOD_SUB[i]}</span> : null}
          </div>
        </React.Fragment>
      ))}
    </div>
  );
}
